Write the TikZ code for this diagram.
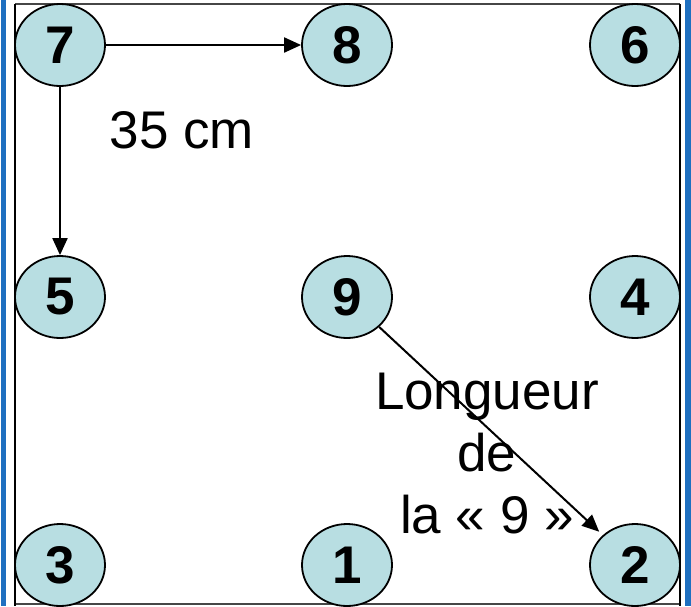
\documentclass[tikz,border=0pt]{standalone}
\usepackage{fontspec}
\setmainfont{Liberation Sans}
\usetikzlibrary{arrows.meta,shapes.geometric}
\definecolor{nodefill}{RGB}{184,222,226}
\definecolor{barblue}{RGB}{31,112,192}
\definecolor{framegray}{RGB}{70,70,70}
\begin{document}
\begin{tikzpicture}[x=1pt,y=-1pt,
  num/.style={ellipse,draw=black,line width=1.8pt,fill=nodefill,minimum width=90pt,minimum height=82pt,inner sep=0pt,font=\fontsize{53}{53}\selectfont\bfseries},
  conn/.style={line width=2pt,-{Triangle[length=17pt,width=15pt]}},
  lbl/.style={font=\fontsize{53}{62}\selectfont,align=center,inner sep=0pt}]
\useasboundingbox (0,0) rectangle (691,606);
\fill[barblue] (1,0) rectangle (6,606);
\fill[barblue] (685,0) rectangle (691,606);
\draw[framegray,line width=1.2pt] (15,4) -- (680,4);
\draw[framegray,line width=1.2pt] (15,604) -- (680,604);
\draw[black,line width=1.6pt] (15,4) -- (15,606);
\draw[black,line width=1.6pt] (680,4) -- (680,606);
\node[num] (n7) at (60,45) {7};
\node[num] (n8) at (347,45) {8};
\node[num] (n6) at (635,45) {6};
\node[num] (n5) at (60,297) {5};
\node[num] (n9) at (347,297) {9};
\node[num] (n4) at (635,297) {4};
\node[num] (n3) at (60,565) {3};
\node[num] (n1) at (347,565) {1};
\node[num] (n2) at (635,565) {2};
\draw[conn] (n7) -- (n8);
\draw[conn] (n7) -- (n5);
\draw[conn,shorten >=5pt] (n9) -- (n2);
\node[lbl,anchor=base] (t35) at (182,148) {35 cm};
\node[lbl,anchor=base] (tl) at (487,533) {Longueur\\de\\la « 9 »};
\end{tikzpicture}
\end{document}
